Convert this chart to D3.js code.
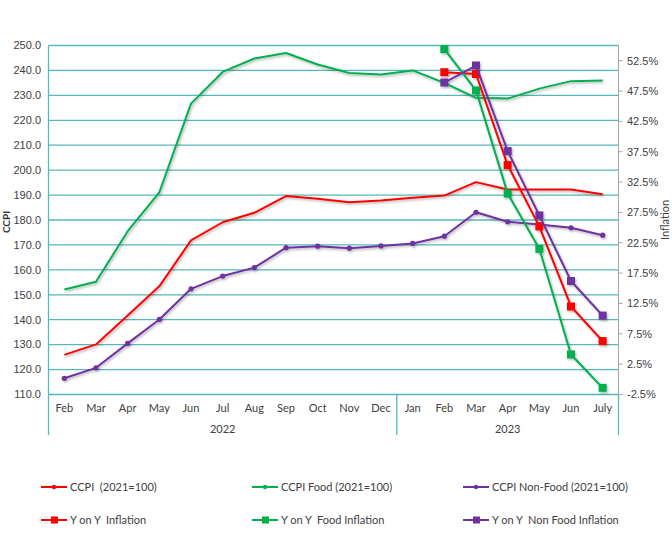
<!DOCTYPE html>
<html>
<head>
<meta charset="utf-8">
<script src="https://cdn.jsdelivr.net/npm/d3@7"></script>
<style>
  body { margin: 0; background: #fff; }
  svg { display: block; font-family: Lato, "Liberation Sans", sans-serif; }
</style>
</head>
<body>
<svg id="chart" width="672" height="540"></svg>
<script>
// data ==============================================================
var months = ["Feb", "Mar", "Apr", "May", "Jun", "Jul", "Aug", "Sep", "Oct", "Nov", "Dec",
  "Jan", "Feb", "Mar", "Apr", "May", "Jun", "July"]
var years = [{ label: "2022", from: 0, to: 10 }, { label: "2023", from: 11, to: 17 }]

var ccpi = [125.9, 130.1, 141.7, 153.4, 171.8, 179.1, 182.9, 189.6, 188.5, 187.1, 187.8,
  188.9, 189.8, 195.2, 192.2, 192.2, 192.2, 190.3]
var ccpiFood = [152.1, 155.2, 175.5, 191.1, 226.7, 239.4, 244.8, 247.0, 242.4, 239.0, 238.4,
  240.0, 235.0, 229.0, 228.7, 232.7, 235.7, 236.0]
var ccpiNonFood = [116.5, 120.7, 130.5, 140.1, 152.4, 157.5, 160.9, 168.9, 169.5, 168.7, 169.6,
  170.6, 173.5, 183.1, 179.3, 178.2, 176.9, 173.9]

// Y on Y inflation only from Feb 2023 (index 12)
var infl = [null, null, null, null, null, null, null, null, null, null, null,
  null, 50.6, 50.3, 35.3, 25.2, 12.0, 6.3]
var inflFood = [null, null, null, null, null, null, null, null, null, null, null,
  null, 54.4, 47.6, 30.6, 21.5, 4.1, -1.4]
var inflNonFood = [null, null, null, null, null, null, null, null, null, null, null,
  null, 48.9, 51.7, 37.6, 27.0, 16.2, 10.5]

var leftTicks = d3.range(110, 251, 10)
var rightTicks = [-2.5, 2.5, 7.5, 12.5, 17.5, 22.5, 27.5, 32.5, 37.5, 42.5, 47.5, 52.5]

var RED = "#ff0000", GREEN = "#00b050", PURPLE = "#7030a0"
var GRID = "#56b8ba"

var series = [
  { name: "CCPI  (2021=100)", values: ccpi, color: RED, axis: "left", marker: "none" },
  { name: "CCPI Food (2021=100)", values: ccpiFood, color: GREEN, axis: "left", marker: "none" },
  { name: "CCPI Non-Food (2021=100)", values: ccpiNonFood, color: PURPLE, axis: "left", marker: "dot" },
  { name: "Y on Y  Inflation", values: infl, color: RED, axis: "right", marker: "square" },
  { name: "Y on Y  Food Inflation", values: inflFood, color: GREEN, axis: "right", marker: "square" },
  { name: "Y on Y  Non Food Inflation", values: inflNonFood, color: PURPLE, axis: "right", marker: "square" }
]

// layout ============================================================
var plot = { left: 48.5, right: 618.5, top: 45.5, bottom: 394.5 }
var svg = d3.select("#chart")

var x = d3.scaleBand().domain(d3.range(months.length)).range([plot.left, plot.right])
var cx = i => x(i) + x.bandwidth() / 2
var yL = d3.scaleLinear().domain([110, 250]).range([plot.bottom, plot.top])
var yR = d3.scaleLinear().domain([-2.5, 55]).range([plot.bottom, plot.top])

// shadow for the lines
var defs = svg.append("defs")
defs.append("filter").attr("id", "shadow")
  .attr("x", "-10%").attr("y", "-10%").attr("width", "130%").attr("height", "130%")
  .append("feDropShadow")
  .attr("dx", 1.2).attr("dy", 1.5).attr("stdDeviation", 1)
  .attr("flood-color", "#000").attr("flood-opacity", 0.3)

// gridlines (left axis)
svg.append("g").selectAll("line").data(leftTicks).enter().append("line")
  .attr("x1", plot.left).attr("x2", plot.right)
  .attr("y1", d => yL(d)).attr("y2", d => yL(d))
  .attr("stroke", GRID).attr("stroke-width", 1.3)

// left border
svg.append("line")
  .attr("x1", plot.left).attr("x2", plot.left)
  .attr("y1", plot.top).attr("y2", plot.bottom)
  .attr("stroke", GRID).attr("stroke-width", 1.3)

// left tick labels
svg.append("g").selectAll("text").data(leftTicks).enter().append("text")
  .attr("x", 41).attr("y", d => yL(d)).attr("dy", "0.35em")
  .attr("text-anchor", "end")
  .style("font-family", "'Liberation Sans', Arial, sans-serif")
  .style("font-size", "11px").attr("fill", "#404040")
  .text(d => d.toFixed(1))

// right axis
var rightAxis = svg.append("g")
rightAxis.append("line")
  .attr("x1", plot.right).attr("x2", plot.right)
  .attr("y1", plot.top).attr("y2", plot.bottom)
  .attr("stroke", "#a6a6a6").attr("stroke-width", 1)
rightAxis.selectAll("line.tick").data(rightTicks).enter().append("line")
  .attr("class", "tick")
  .attr("x1", plot.right).attr("x2", plot.right + 4)
  .attr("y1", d => yR(d)).attr("y2", d => yR(d))
  .attr("stroke", "#a6a6a6")
rightAxis.selectAll("text").data(rightTicks).enter().append("text")
  .attr("x", 627).attr("y", d => yR(d)).attr("dy", "0.35em")
  .style("font-family", "'Liberation Sans', Arial, sans-serif")
  .style("font-size", "11px").attr("fill", "#404040")
  .text(d => d.toFixed(1) + "%")

// axis titles
svg.append("text")
  .attr("transform", "translate(10,222) rotate(-90)")
  .attr("text-anchor", "middle")
  .style("font-size", "10px").style("font-weight", "bold").attr("fill", "#333")
  .text("CCPI")
svg.append("text")
  .attr("transform", "translate(669,220) rotate(-90)")
  .attr("text-anchor", "middle")
  .style("font-size", "11px").attr("fill", "#404040")
  .text("Inflation")

// x axis: months then years
svg.append("g").selectAll("text").data(months).enter().append("text")
  .attr("x", (d, i) => cx(i)).attr("y", 412)
  .attr("text-anchor", "middle")
  .style("font-size", "11px").attr("fill", "#404040")
  .text(d => d)

svg.append("g").selectAll("text").data(years).enter().append("text")
  .attr("x", d => (x(d.from) + x(d.to) + x.bandwidth()) / 2).attr("y", 433)
  .attr("text-anchor", "middle")
  .style("font-size", "11px").attr("fill", "#404040")
  .text(d => d.label)

// year dividers
var dividers = [x(years[0].from), x(years[1].from), x(years[1].to) + x.bandwidth()]
svg.append("g").selectAll("line").data(dividers).enter().append("line")
  .attr("x1", d => d).attr("x2", d => d)
  .attr("y1", plot.bottom).attr("y2", 435)
  .attr("stroke", GRID).attr("stroke-width", 1.3)

// series ============================================================
var lines = svg.append("g").attr("filter", "url(#shadow)")

series.forEach(s => {
  var y = s.axis === "left" ? yL : yR
  var pts = s.values.map((v, i) => ({ i: i, v: v })).filter(d => d.v !== null)
  var line = d3.line().x(d => cx(d.i)).y(d => y(d.v))

  lines.append("path")
    .datum(pts)
    .attr("d", line)
    .attr("fill", "none")
    .attr("stroke", s.color)
    .attr("stroke-width", 2)
    .attr("stroke-linejoin", "round")

  if (s.marker === "dot") {
    lines.selectAll(null).data(pts).enter().append("circle")
      .attr("cx", d => cx(d.i)).attr("cy", d => y(d.v))
      .attr("r", 2.6).attr("fill", s.color)
  }
  if (s.marker === "square") {
    lines.selectAll(null).data(pts).enter().append("rect")
      .attr("x", d => cx(d.i) - 4).attr("y", d => y(d.v) - 4)
      .attr("width", 8).attr("height", 8).attr("fill", s.color)
  }
})

// legend ============================================================
var legendX = [41, 252, 463]
var legendY = [487, 520]
var legend = svg.append("g").selectAll("g").data(series).enter().append("g")
  .attr("transform", (d, i) => `translate(${legendX[i % 3]},${legendY[Math.floor(i / 3)]})`)

legend.append("line")
  .attr("x1", 0).attr("x2", 26)
  .attr("stroke", d => d.color).attr("stroke-width", 2)
legend.filter(d => d.axis === "left").append("circle")
  .attr("cx", 13).attr("r", 2.2).attr("fill", d => d.color)
legend.filter(d => d.axis === "right").append("rect")
  .attr("x", 10).attr("y", -3.5).attr("width", 7).attr("height", 7)
  .attr("fill", d => d.color)
legend.append("text")
  .attr("x", 29).attr("dy", "0.35em")
  .style("font-size", "11px").style("white-space", "pre").attr("fill", "#404040")
  .text(d => d.name)
</script>
</body>
</html>
